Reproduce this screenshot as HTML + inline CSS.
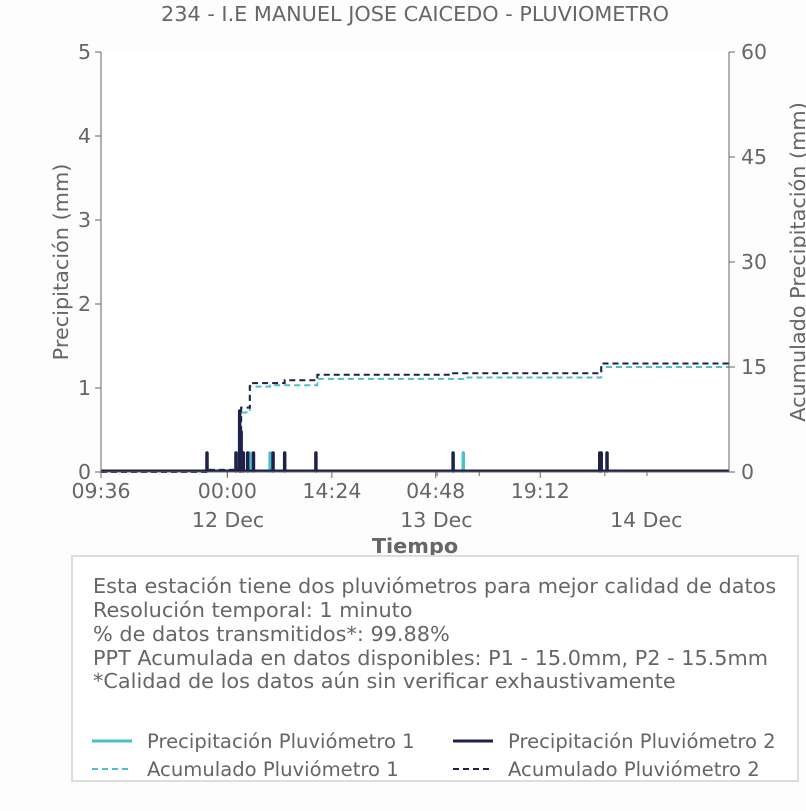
<!DOCTYPE html>
<html><head><meta charset="utf-8"><style>
body{margin:0;background:#fdfdfd;font-family:"Liberation Sans","DejaVu Sans",sans-serif;}
svg text{font-family:"DejaVu Sans","Liberation Sans",sans-serif;fill:#666;}
</style></head><body>
<svg id="c" width="806" height="806" xmlns="http://www.w3.org/2000/svg">
<rect width="806" height="806" fill="#fdfdfd"/>
<text x="415" y="21" font-size="20.8" text-anchor="middle">234 - I.E MANUEL JOSE CAICEDO - PLUVIOMETRO</text>
<rect x="101" y="52" width="628" height="420" fill="#fff"/>
<g id="marks"></g>
<line x1="101" y1="52" x2="101" y2="472" stroke="#666"/>
<line x1="729" y1="52" x2="729" y2="472" stroke="#666"/>
<line x1="101" y1="472" x2="729" y2="472" stroke="#666"/>
<g id="axes"></g>
<text transform="translate(68,262) rotate(-90)" font-size="20.8" text-anchor="middle">Precipitación (mm)</text>
<text transform="translate(805,262) rotate(-90)" font-size="20.8" text-anchor="middle">Acumulado Precipitación (mm)</text>
<text x="415" y="553" font-size="20.8" font-weight="bold" text-anchor="middle">Tiempo</text>
<rect x="72" y="556" width="726" height="225" fill="#fff" stroke="#ddd" stroke-width="2"/>
<g font-size="20.8">
<text x="93" y="593">Esta estación tiene dos pluviómetros para mejor calidad de datos</text>
<text x="93" y="617">Resolución temporal: 1 minuto</text>
<text x="93" y="641">% de datos transmitidos*: 99.88%</text>
<text x="93" y="665">PPT Acumulada en datos disponibles: P1 - 15.0mm, P2 - 15.5mm</text>
<text x="93" y="688">*Calidad de los datos aún sin verificar exhaustivamente</text>
</g>
<g font-size="19.6">
<g><line x1="92" y1="741" x2="132" y2="741" stroke="#4bbfcc" stroke-width="3"/><text x="147" y="748">Precipitación Pluviómetro 1</text></g>
<g><line x1="453" y1="741" x2="493" y2="741" stroke="#1e2148" stroke-width="3"/><text x="508" y="748">Precipitación Pluviómetro 2</text></g>
<g><line x1="92" y1="769" x2="132" y2="769" stroke="#4bbfcc" stroke-width="2" stroke-dasharray="6,4"/><text x="147" y="776">Acumulado Pluviómetro 1</text></g>
<g><line x1="453" y1="769" x2="493" y2="769" stroke="#1e2148" stroke-width="2" stroke-dasharray="6,4"/><text x="508" y="776">Acumulado Pluviómetro 2</text></g>
</g>
</svg>
<script>
// hours since axis start
const p1Hours=[18.6,19.1,19.3,19.6,20.5,23.3,49.9];
const p1Vals=[0.25,0.5,0.5,0.25,0.25,0.25,0.25];
const p2Hours=[14.6,18.6,19.1,19.3,19.6,20.2,21.0,23.7,25.3,29.6,48.5,68.7,68.9,69.7];
const p2Vals=[0.25,0.25,0.75,0.5,0.25,0.25,0.25,0.25,0.25,0.25,0.25,0.25,0.25,0.25];
const c1Hours=[0,14.8,18.7,19.3,20.5,23.3,29.8,49.9,68.9,86.5];
const c1Vals=[0,0.3,0.5,8.5,12.2,12.4,13.3,13.5,15.0,15.0];
const c2Hours=[0,14.8,18.7,19.3,20.5,25.3,29.8,48.5,68.9,86.5];
const c2Vals=[0,0.3,0.5,9.2,12.7,13.1,13.9,14.1,15.5,15.5];
const leftTicks=[0,1,2,3,4,5];
const rightTicks=[0,15,30,45,60];
const xTickHours=[0,17.4,31.8,46.1,60.5];
const xTickLabels=["09:36","00:00","14:24","04:48","19:12"];
const dateHours=[17.5,46.2,75.1];
const dateLabels=["12 Dec","13 Dec","14 Dec"];
const minorHours=[17.4,46.3,52.1,69.4,75.2];

const NS="http://www.w3.org/2000/svg";
const X=h=>101+h*7.26;
const Y=v=>472-v*84;
const Y2=v=>472-v*7;
const marks=document.getElementById('marks'),axes=document.getElementById('axes');
function mk(p,tag,at){const e=document.createElementNS(NS,tag);for(const k in at)e.setAttribute(k,at[k]);p.appendChild(e);return e;}
function cum(hs,vs,col,name){let d='M'+X(hs[0])+','+Y2(vs[0]);for(let i=1;i<hs.length;i++){d+=' L'+X(hs[i])+','+Y2(vs[i-1])+' L'+X(hs[i])+','+Y2(vs[i]);}
const e=mk(marks,'path',{d:d,fill:'none',stroke:col,'stroke-width':2,'stroke-dasharray':'6,4'});

}
function bars(hs,vs,col,name){mk(marks,'line',{x1:101,y1:471,x2:729,y2:471,stroke:col,'stroke-width':3});
hs.forEach((h,i)=>{const e=mk(marks,'line',{x1:X(h),y1:471,x2:X(h),y2:Y(vs[i])+2,stroke:col,'stroke-width':3.5,'stroke-linecap':'round'});

});}
cum(c1Hours,c1Vals,'#4bbfcc','cumulative-p1-line');
cum(c2Hours,c2Vals,'#1e2148','cumulative-p2-line');
bars(p1Hours,p1Vals,'#4bbfcc','precip-p1-bar');
bars(p2Hours,p2Vals,'#1e2148','precip-p2-bar');
leftTicks.forEach(v=>{mk(axes,'line',{x1:95,y1:Y(v),x2:101,y2:Y(v),stroke:'#666'});
const t=mk(axes,'text',{x:91,y:Y(v)+7,'font-size':20.5,'text-anchor':'end'});t.textContent=v;

});
rightTicks.forEach(v=>{mk(axes,'line',{x1:729,y1:Y2(v),x2:735,y2:Y2(v),stroke:'#666'});
const t=mk(axes,'text',{x:741,y:Y2(v)+7,'font-size':20.5});t.textContent=v;

});
xTickHours.forEach((h,i)=>{mk(axes,'line',{x1:X(h),y1:472,x2:X(h),y2:478,stroke:'#666'});
const t=mk(axes,'text',{x:X(h),y:498,'font-size':20.5,'text-anchor':'middle'});t.textContent=xTickLabels[i];

});
minorHours.forEach(h=>mk(axes,'line',{x1:X(h),y1:472,x2:X(h),y2:476,stroke:'#666'}));
dateHours.forEach((h,i)=>{const t=mk(axes,'text',{x:X(h),y:527,'font-size':20.5,'text-anchor':'middle'});t.textContent=dateLabels[i];

});
</script>
</body></html>
